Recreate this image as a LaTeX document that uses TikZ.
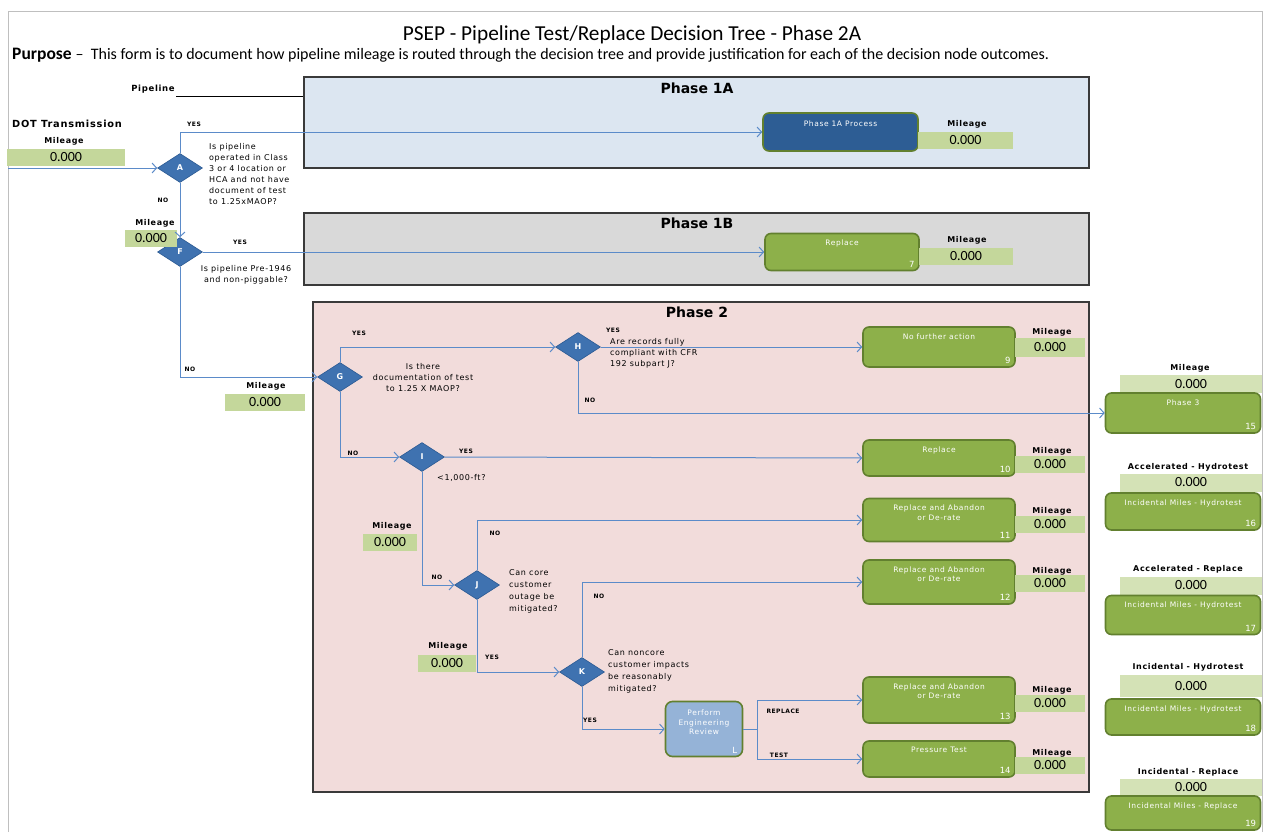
\documentclass[tikz,border=0pt]{standalone}
\usepackage{fontspec}
\setmainfont{Carlito}
\newfontfamily\dv{DejaVu Sans}
\newfontfamily\dvw[LetterSpace=8]{DejaVu Sans}
\usetikzlibrary{shapes.geometric,arrows.meta}

\definecolor{frameg}{HTML}{BFBFBF}
\definecolor{p1afill}{HTML}{DCE6F1}
\definecolor{p1bfill}{HTML}{D9D9D9}
\definecolor{p2fill}{HTML}{F2DCDB}
\definecolor{phaseedge}{HTML}{3A3A3A}
\definecolor{boxgreen}{HTML}{8DB04A}
\definecolor{boxedge}{HTML}{62802F}
\definecolor{milgreen}{HTML}{C4D79B}
\definecolor{milpale}{HTML}{D4E2B6}
\definecolor{decblue}{HTML}{3F72B0}
\definecolor{decedge}{HTML}{2B5A93}
\definecolor{flowblue}{HTML}{5B8BC9}
\definecolor{procblue}{HTML}{2D5D94}
\definecolor{revblue}{HTML}{95B3D7}

\tikzset{
  phase/.style={draw=phaseedge, line width=1.2pt},
  phasetitle/.style={font=\dv\bfseries\fontsize{14}{15}\selectfont},
  flow/.style={draw=flowblue, line width=1pt, -{Straight Barb[length=4.5pt,width=10pt]}},
  flowline/.style={draw=flowblue, line width=1pt},
  dec/.style={diamond, fill=decblue, draw=decedge, line width=0.6pt, inner sep=0pt,
    minimum width=45pt, minimum height=29pt, text=white,
    font=\dv\bfseries\fontsize{8}{9}\selectfont},
  outbox/.style={rectangle, rounded corners=6pt, fill=boxgreen, draw=boxedge, line width=1.6pt, inner sep=0pt},
  btxt/.style={text=white, font=\dvw\fontsize{7.5}{9.5}\selectfont, align=center, inner sep=0pt},
  bnum/.style={text=white, font=\dv\fontsize{8.5}{9}\selectfont, inner sep=0pt},
  milval/.style={rectangle, fill=milgreen, inner sep=0pt, font=\fontsize{14}{15}\selectfont},
  mlab/.style={font=\dvw\bfseries\fontsize{8}{9}\selectfont, inner sep=0pt},
  tag/.style={font=\dvw\bfseries\fontsize{6}{7}\selectfont, inner sep=0pt},
  ques/.style={font=\dvw\fontsize{8}{11}\selectfont, inner sep=0pt, align=left},
}

% outcome box: name, x, y, width, height, caption, number
\newcommand\outcome[7]{%
  \node[outbox, minimum width=#4pt, minimum height=#5pt] (#1) at (#2,#3) {};
  \node[btxt, anchor=north] (#1t) at ([yshift=-7pt]#1.north) {#6};
  \node[bnum, anchor=south east] (#1n) at ([xshift=-5pt,yshift=4pt]#1.south east) {#7};
}
% mileage value: name, x, y, width, height
\newcommand\milval[5]{%
  \node[milval, minimum width=#4pt, minimum height=#5pt] (#1) at (#2,#3) {0.000};
}

\begin{document}
\begin{tikzpicture}[x=1pt,y=-1pt]
\useasboundingbox (0,0) rectangle (1265,832);
\fill[white] (0,0) rectangle (1265,832);

% sheet frame
\draw[frameg, line width=1pt] (8,832) -- (8,12) -- (1262,12) -- (1262,832);

% heading
\node[font=\fontsize{21.3}{24}\selectfont, inner sep=0pt] (title) at (632,35)
  {PSEP - Pipeline Test/Replace Decision Tree - Phase 2A};
\node[anchor=west, inner sep=0pt] (purpose) at (12,55)
  {\fontsize{17.5}{18}\selectfont\bfseries Purpose\ \mdseries\fontsize{16}{18}\selectfont –\ \ This form is to document how pipeline mileage is routed through the decision tree and provide justification for each of the decision node outcomes.};

% pipeline field
\node[font=\dvw\bfseries\fontsize{8.5}{9}\selectfont, inner sep=0pt] (pipelbl) at (153,89) {Pipeline};
\draw[black, line width=1pt] (176,97) -- (304,97);

% phase panels
\draw[phase, fill=p1afill] (304,77) rectangle (1089,168);
\node[phasetitle] (ph1a) at (697,88) {Phase 1A};
\draw[phase, fill=p1bfill] (304,213) rectangle (1089,285);
\node[phasetitle] (ph1b) at (697,223) {Phase 1B};
\draw[phase, fill=p2fill] (313,302) rectangle (1089,792);
\node[phasetitle] (ph2) at (697,312) {Phase 2};

% entry mileage
\node[font=\dvw\bfseries\fontsize{9.8}{10}\selectfont, anchor=west, inner sep=0pt] (dot) at (12,124) {DOT Transmission};
\node[mlab] (m0l) at (64,141) {Mileage};
\milval{m0}{66}{157}{118}{17}
\coordinate (in) at (8,168);

% decision nodes
\node[dec] (A) at (180,168) {A};
\node[dec] (F) at (180,252) {F};
\node[dec] (G) at (340,377) {G};
\node[dec] (H) at (578,347) {H};
\node[dec] (I) at (422,457) {I};
\node[dec] (J) at (477,585) {J};
\node[dec] (K) at (582,672) {K};

% decision questions
\node[ques, anchor=north west] (Aq) at (209,143) {Is pipeline\\operated in Class\\3 or 4 location or\\HCA and not have\\document of test\\to 1.25xMAOP?};
\node[ques, align=center, anchor=north] (Fq) at (246,265) {Is pipeline Pre-1946\\and non-piggable?};
\node[ques, align=center, anchor=north] (Gq) at (423,363) {Is there\\documentation of test\\to 1.25 X MAOP?};
\node[ques, anchor=north west] (Hq) at (610,338) {Are records fully\\compliant with CFR\\192 subpart J?};
\node[ques, anchor=west] (Iq) at (437,478) {<1,000-ft?};
\node[ques, anchor=north west, font=\dvw\fontsize{8}{12}\selectfont] (Jq) at (509,569) {Can core\\customer\\outage be\\mitigated?};
\node[ques, anchor=north west, font=\dvw\fontsize{8}{12}\selectfont] (Kq) at (608,649) {Can noncore\\customer impacts\\be reasonably\\mitigated?};

% intermediate mileage
\node[mlab] (mFl) at (155,223) {Mileage};
\milval{mF}{151}{238.5}{52}{17}
\node[mlab] (mGl) at (266,386) {Mileage};
\milval{mG}{265}{402.5}{80}{17}
\node[mlab] (mIl) at (392,526) {Mileage};
\milval{mI}{390}{542.5}{54}{17}
\node[mlab] (mJl) at (448,646) {Mileage};
\milval{mJ}{447}{663}{58}{17}

% outcomes, phase 1A and 1B
\node[rectangle, rounded corners=6pt, fill=procblue, draw=boxedge, line width=1.6pt,
  minimum width=155pt, minimum height=38pt] (p1a) at (840.5,132) {};
\node[btxt, anchor=north] (p1at) at ([yshift=-8pt]p1a.north) {Phase 1A Process};
\node[mlab] (mp1al) at (967,124) {Mileage};
\milval{mp1a}{965.5}{140.5}{95}{17}

\outcome{rep7}{842}{252}{154}{37}{Replace}{7}
\node[mlab] (mr7l) at (967,240) {Mileage};
\milval{mr7}{966}{256.5}{94}{17}

% outcomes, phase 2
\outcome{b9}{939}{347}{152}{40}{No further action}{9}
\node[mlab] (m9l) at (1052,332) {Mileage};
\milval{m9}{1050}{347.5}{70}{19}

\outcome{b10}{939}{458}{152}{36}{Replace}{10}
\node[mlab] (m10l) at (1052,451) {Mileage};
\milval{m10}{1050}{464.5}{70}{17}

\outcome{b11}{939}{520}{152}{43}{Replace and Abandon\\or De-rate}{11}
\node[mlab] (m11l) at (1052,511) {Mileage};
\milval{m11}{1050}{524.5}{70}{17}

\outcome{b12}{939}{582}{152}{44}{Replace and Abandon\\or De-rate}{12}
\node[mlab] (m12l) at (1052,571) {Mileage};
\milval{m12}{1050}{583.5}{70}{17}

\outcome{b13}{939}{700}{152}{46}{Replace and Abandon\\or De-rate}{13}
\node[mlab] (m13l) at (1052,690) {Mileage};
\milval{m13}{1050}{703.5}{70}{17}

\outcome{b14}{939}{759}{152}{36}{Pressure Test}{14}
\node[mlab] (m14l) at (1052,753) {Mileage};
\milval{m14}{1050}{765.5}{70}{17}

% engineering review
\node[rectangle, rounded corners=7pt, fill=revblue, draw=boxedge, line width=1.6pt,
  minimum width=77pt, minimum height=55pt] (eng) at (704,729) {};
\node[btxt, anchor=north] (engt) at ([yshift=-9pt]eng.north) {Perform\\Engineering\\Review};
\node[bnum, anchor=south east] (engn) at ([xshift=-6pt,yshift=4pt]eng.south east) {L};
\coordinate (fork) at (757,729);

% outcomes outside the phases
\node[mlab] (m15l) at (1190,368) {Mileage};
\node[milval, fill=milpale, minimum width=142pt, minimum height=18pt] (m15) at (1191,384) {0.000};
\outcome{b15}{1183}{413}{155}{40}{Phase 3}{15}

\node[mlab] (m16l) at (1188,467) {Accelerated - Hydrotest};
\node[milval, fill=milpale, minimum width=142pt, minimum height=18pt] (m16) at (1191,482.5) {0.000};
\outcome{b16}{1183}{511.5}{155}{37}{Incidental Miles - Hydrotest}{16}

\node[mlab] (m17l) at (1188,569) {Accelerated - Replace};
\node[milval, fill=milpale, minimum width=142pt, minimum height=18pt] (m17) at (1191,585.5) {0.000};
\outcome{b17}{1183}{615}{155}{39}{Incidental Miles - Hydrotest}{17}

\node[mlab] (m18l) at (1188,667) {Incidental - Hydrotest};
\node[milval, fill=milpale, minimum width=142pt, minimum height=22pt] (m18) at (1191,686) {0.000};
\outcome{b18}{1183}{717}{155}{36}{Incidental Miles - Hydrotest}{18}

\node[mlab] (m19l) at (1188,772) {Incidental - Replace};
\node[milval, fill=milpale, minimum width=142pt, minimum height=17pt] (m19) at (1191,787.5) {0.000};
\outcome{b19}{1183}{813}{155}{34}{Incidental Miles - Replace}{19}

% connectors
\draw[flow] (in) -- (A.west);
\draw[flow] (A.north) |- (p1a.west);
\draw[flow] (A.south) -- (F.north);
\draw[flow] (F.east) -- (rep7.west);
\draw[flow] (F.south) |- (G.west);
\draw[flow] (G.north) |- (H.west);
\draw[flow] (H.east) -- (b9.west);
\draw[flow] (H.south) |- (b15.west);
\draw[flow] (G.south) |- (I.west);
\draw[flow] (I.east) -- (b10.west);
\draw[flow] (I.south) |- (J.west);
\draw[flow] (J.north) |- (b11.west);
\draw[flow] (J.south) |- (K.west);
\draw[flow] (K.north) |- (b12.west);
\draw[flow] (K.south) |- (eng.west);
\draw[flowline] (eng.east) -- (fork);
\draw[flow] (fork) |- (b13.west);
\draw[flow] (fork) |- (b14.west);

% branch labels
\node[tag] (tA1) at (194,124) {YES};
\node[tag] (tA2) at (163,200) {NO};
\node[tag] (tF1) at (240,242) {YES};
\node[tag] (tF2) at (190,369) {NO};
\node[tag] (tG1) at (359,333) {YES};
\node[tag] (tG2) at (353,453) {NO};
\node[tag] (tH1) at (613,330) {YES};
\node[tag] (tH2) at (590,400) {NO};
\node[tag] (tI1) at (466,451) {YES};
\node[tag] (tI2) at (437,577) {NO};
\node[tag] (tJ1) at (495,533) {NO};
\node[tag] (tJ2) at (492,657) {YES};
\node[tag] (tK1) at (599,596) {NO};
\node[tag] (tK2) at (590,720) {YES};
\node[tag] (tR) at (783,711) {REPLACE};
\node[tag] (tT) at (779,755) {TEST};
\end{tikzpicture}
\end{document}
